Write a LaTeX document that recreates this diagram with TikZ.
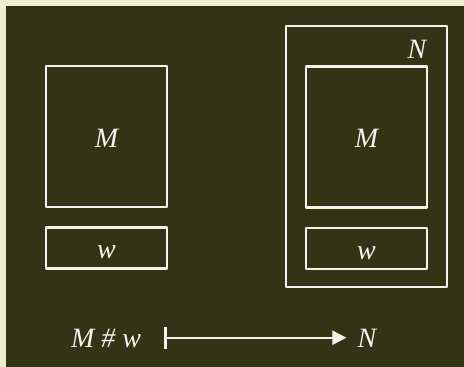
\documentclass[tikz,border=0pt]{standalone}
\usepackage{fontspec}
\setmainfont{Liberation Serif}
\usetikzlibrary{arrows.meta,positioning}
\definecolor{slidebg}{HTML}{333316}
\definecolor{slideframe}{HTML}{EEEED2}
\definecolor{chalk}{HTML}{F4F4EC}

\begin{document}
\begin{tikzpicture}[
  x=1pt,
  y=-1pt,
  line join=round,
  box/.style={draw=chalk,line width=2.4pt,outer sep=0pt,inner sep=0pt,text=chalk,
    minimum width=121pt,text height=21.6pt,text depth=0pt,
    font=\fontsize{28}{33}\selectfont\itshape},
  tallbox/.style={box,minimum height=141pt},
  flatbox/.style={box,minimum height=41pt},
  lbl/.style={text=chalk,inner sep=0pt,anchor=base,
    font=\fontsize{28}{33}\selectfont\itshape},
  mapsto/.style={draw=chalk,line width=2pt,
    {Bar[width=22pt,line width=2.5pt]}-{Triangle[length=14pt,width=14pt]}}
]
  % Slide frame and background.
  \useasboundingbox[fill=slideframe] (0,0) rectangle (464,367);
  \fill[slidebg] (6,6) rectangle (464,367);

  % Left: the pair M and w.
  \node[tallbox] (leftM) at (106.5,136.5) {M};
  \node[flatbox,below=20.5pt of leftM] (leftw) {w};

  % Right: the same pair inside N.
  \node[draw=chalk,line width=2.4pt,outer sep=0pt,minimum width=161pt,
    minimum height=261pt] (Nbox) at (366.5,156.5) {};
  \node[tallbox] (rightM) at (366.5,137) {M};
  \node[flatbox,below=20.5pt of rightM] (rightw) {w};
  \node[lbl] (Ntag) at ([shift={(-30,32)}]Nbox.north east) {N};

  % The map M # w to N.
  \node[lbl] (conn) at (106,347) {M \# w};
  \node[lbl] (result) at (367,347) {N};
  \draw[mapsto] ([shift={(23,-9.3)}]conn.base east) -- ([shift={(-11,-9.3)}]result.base west);
\end{tikzpicture}
\end{document}
